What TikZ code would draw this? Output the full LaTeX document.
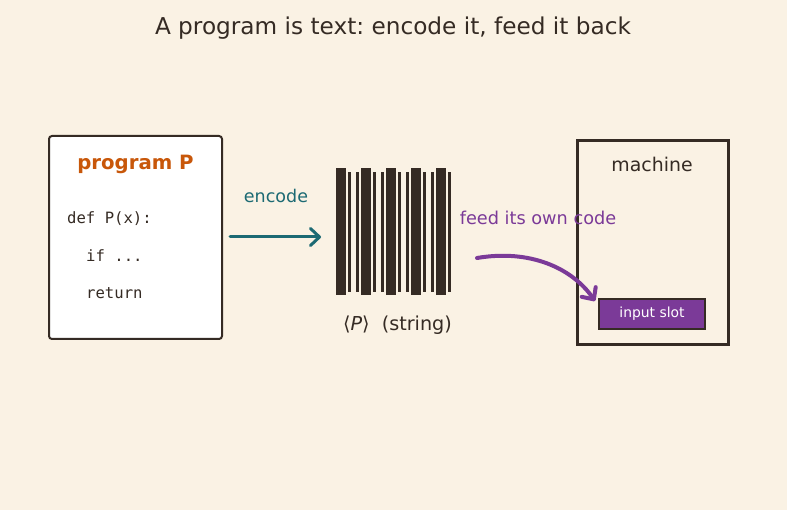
\documentclass[tikz,border=0pt]{standalone}
\usepackage{fontspec}
\setmainfont{DejaVu Sans}
\setmonofont{DejaVu Sans Mono}
\usetikzlibrary{arrows.meta}
\frenchspacing
\definecolor{bg}{HTML}{FAF2E4}
\definecolor{ink}{HTML}{352B24}
\definecolor{orng}{HTML}{C8570A}
\definecolor{teal}{HTML}{1C6A73}
\definecolor{purp}{HTML}{7B3A98}
\begin{document}
\begin{tikzpicture}[x=1pt,y=-1pt,
  lbl/.style={inner sep=0pt, anchor=center},
  codeline/.style={inner sep=0pt, anchor=west, text=ink, font=\ttfamily\fontsize{15.6}{18}\selectfont},
  barb/.style={-{Straight Barb[length=9pt,width=17pt,line cap=round,line join=round]}}
]
\fill[bg] (0,0) rectangle (787,510);
\useasboundingbox (0,0) rectangle (787,510);
% title
\node[lbl, text=ink, font=\fontsize{23.2}{27}\selectfont] (title) at (393,28) {A program is text: encode it, feed it back};
% program box
\node[draw=ink, line width=2pt, fill=white, rounded corners=3pt, minimum width=173pt, minimum height=203pt, inner sep=0pt] (prog) at (135.5,237.5) {};
\node[lbl, text=orng, font=\bfseries\fontsize{19.7}{23}\selectfont] (progtitle) at (135.5,164) {program P};
\node[codeline] (c1) at (67,218.5) {def P(x):};
\node[codeline] (c2) at (86,255.5) {if ...};
\node[codeline] (c3) at (86,293.5) {return};
% encode arrow
\coordinate (encA) at (230,237);
\coordinate (encB) at (321,237);
\draw[teal, line width=3pt, line cap=round, barb] (encA) -- (encB);
\node[lbl, text=teal, font=\fontsize{17.5}{21}\selectfont] (enclbl) at (276,196) {encode};
% barcode
\foreach \i in {0,...,4}{
  \fill[ink] ({336+25*\i},168) rectangle ({346+25*\i},295);
  \fill[ink] ({347.7+25*\i},172) rectangle ({350.7+25*\i},292.3);
}
\foreach \i in {0,...,3}{
  \fill[ink] ({356+25*\i},172) rectangle ({359+25*\i},292.3);
}
\node[lbl, text=ink, font=\fontsize{19.2}{23}\selectfont] (strlbl) at (397.5,325) {⟨\itshape P\/\upshape⟩\ \ (string)};
% machine box
\node[draw=ink, line width=3pt, minimum width=151pt, minimum height=204pt, inner sep=0pt] (mach) at (652.5,243) {};
\node[lbl, text=ink, font=\fontsize{18.9}{22}\selectfont] (machlbl) at (652,164) {machine};
\node[draw=ink, line width=1.5pt, fill=purp, minimum width=106pt, minimum height=30pt, inner sep=0pt, text=white, font=\fontsize{13.9}{16}\selectfont] (slot) at (652,314) {input slot};
% feed arrow
\coordinate (feedA) at (477,258);
\draw[purp, line width=4pt, line cap=round, barb] (feedA) .. controls (530,249) and (572,268) .. (595,301);
\node[lbl, text=purp, font=\fontsize{17.7}{21}\selectfont] (feedlbl) at (538,218) {feed its own code};
\end{tikzpicture}
\end{document}
